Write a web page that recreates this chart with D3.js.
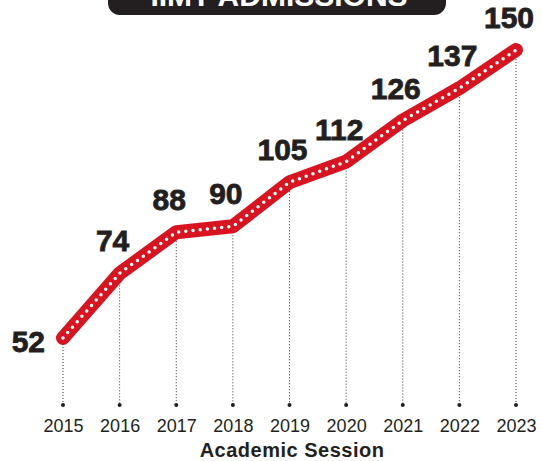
<!DOCTYPE html>
<html>
<head>
<script src="https://cdn.jsdelivr.net/npm/d3@7/dist/d3.min.js"></script>
<style>
    body { margin: 0; background: #fff; }
    svg text { font-family: "Liberation Sans", Arial, sans-serif; }
</style>
</head>
<body>
<svg id="chart" width="542" height="461"></svg>
<script>
    var years = ["2015", "2016", "2017", "2018", "2019", "2020", "2021", "2022", "2023"];
    var admissions = [52, 74, 88, 90, 105, 112, 126, 137, 150];
    var title = "IIMT ADMISSIONS";
    var xTitle = "Academic Session";

    var data = years.map((y, i) => ({year: y, value: admissions[i]}));

    var svg = d3.select("#chart"),
        width = +svg.attr("width"),
        height = +svg.attr("height");

    var x = d3.scalePoint()
        .domain(years)
        .range([63, 516]);

    var y = d3.scaleLinear()
        .domain([52, 150])
        .range([338, 50]);

    var baseY = 405;

    // title banner, cut off by top edge
    svg.append("rect")
        .attr("x", 108).attr("y", -30)
        .attr("width", 338).attr("height", 45)
        .attr("rx", 12)
        .attr("fill", "#231f20");
    svg.append("text")
        .attr("x", 279).attr("y", 6)
        .attr("text-anchor", "middle")
        .attr("font-size", 30)
        .attr("font-weight", "bold")
        .attr("fill", "#fff")
        .text(title);

    // dotted drop lines
    svg.append("g").selectAll("line")
        .data(data)
        .join("line")
        .attr("x1", d => x(d.year)).attr("x2", d => x(d.year))
        .attr("y1", d => y(d.value)).attr("y2", baseY)
        .attr("stroke", "#333")
        .attr("stroke-width", 1)
        .attr("stroke-dasharray", "1 2");

    svg.append("g").selectAll("circle")
        .data(data)
        .join("circle")
        .attr("cx", d => x(d.year)).attr("cy", baseY)
        .attr("r", 2)
        .attr("fill", "#231f20");

    var line = d3.line()
        .x(d => x(d.year))
        .y(d => y(d.value));

    svg.append("path")
        .attr("d", line(data))
        .attr("fill", "none")
        .attr("stroke", "#d7141f")
        .attr("stroke-width", 14)
        .attr("stroke-linecap", "round")
        .attr("stroke-linejoin", "round");

    svg.append("path")
        .attr("d", line(data))
        .attr("fill", "none")
        .attr("stroke", "#fff")
        .attr("stroke-width", 3.5)
        .attr("stroke-linecap", "round")
        .attr("stroke-dasharray", "0 7.2");

    // value labels
    svg.append("g").selectAll("text")
        .data(data)
        .join("text")
        .attr("x", (d, i) => i === 0 ? x(d.year) - 18 : x(d.year) - 7)
        .attr("y", (d, i) => i === 0 ? y(d.value) + 14 : y(d.value) - 22)
        .attr("text-anchor", (d, i) => i === 0 ? "end" : "middle")
        .attr("font-size", 30)
        .attr("font-weight", "bold")
        .attr("fill", "#231f20")
        .attr("stroke", "#231f20")
        .attr("stroke-width", 0.8)
        .text(d => d.value);

    // x axis
    var xAxis = svg.append("g")
        .attr("transform", "translate(0," + baseY + ")")
        .call(d3.axisBottom(x).tickSize(0).tickPadding(14));
    xAxis.select(".domain").remove();
    xAxis.selectAll("text")
        .attr("font-size", 18)
        .attr("fill", "#231f20");

    svg.append("text")
        .attr("x", 292).attr("y", 457)
        .attr("text-anchor", "middle")
        .attr("font-size", 20)
        .attr("font-weight", "bold")
        .attr("letter-spacing", 0.5)
        .attr("fill", "#231f20")
        .text(xTitle);
</script>
</body>
</html>
